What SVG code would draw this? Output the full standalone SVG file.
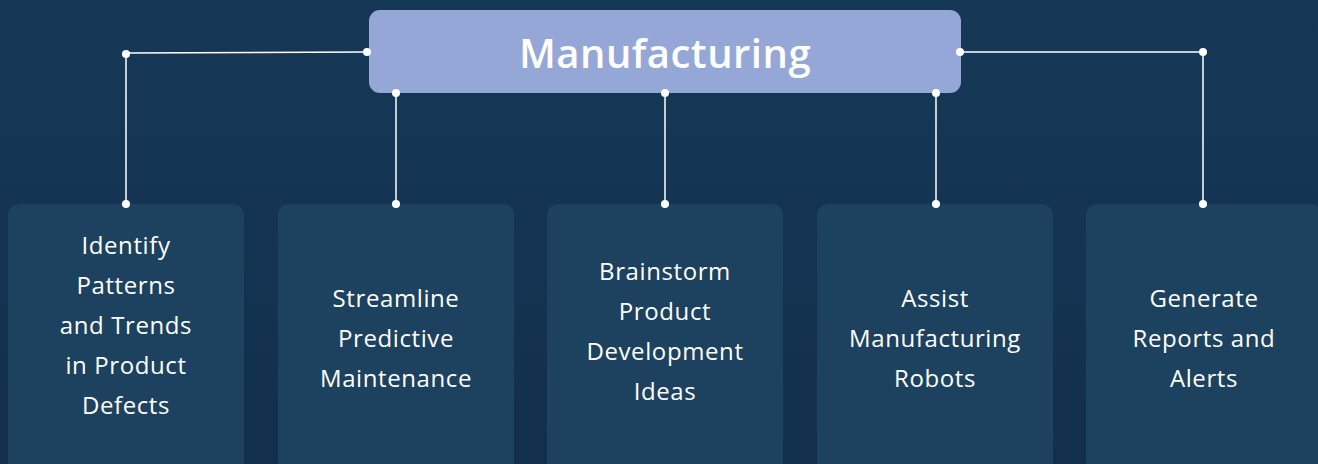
<svg xmlns="http://www.w3.org/2000/svg" width="1318" height="464" viewBox="0 0 1318 464">
<defs>
<linearGradient id="bg" x1="0" y1="0" x2="0" y2="1">
<stop offset="0" stop-color="#163857"/>
<stop offset="1" stop-color="#122f4d"/>
</linearGradient>
<style>
.box{fill:#1c4260}
.t{font-family:"Open Sans","Lato",sans-serif;font-size:24px;letter-spacing:0.6px;fill:#ffffff;text-anchor:middle}
.ln{stroke:#ffffff;stroke-width:1.5;fill:none}
.dot{fill:#ffffff}
</style>
</defs>
<rect width="1318" height="464" fill="url(#bg)"/>
<g id="manufacturing">
<rect x="369" y="10" width="592" height="83" rx="11" fill="#95a7d6"/>
<text x="665" y="68" style="font-family:'Open Sans','Lato',sans-serif;font-size:40px;letter-spacing:0.5px;font-weight:600;fill:#ffffff;text-anchor:middle">Manufacturing</text>
</g>
<g id="node1">
<rect class="box" x="8" y="204" width="236" height="280" rx="11"/>
<text class="t" x="126" y="254">Identify</text>
<text class="t" x="126" y="294">Patterns</text>
<text class="t" x="126" y="334">and Trends</text>
<text class="t" x="126" y="374">in Product</text>
<text class="t" x="126" y="414">Defects</text>
</g>
<g id="node2">
<rect class="box" x="278" y="204" width="236" height="280" rx="11"/>
<text class="t" x="396" y="307">Streamline</text>
<text class="t" x="396" y="347">Predictive</text>
<text class="t" x="396" y="387">Maintenance</text>
</g>
<g id="node3">
<rect class="box" x="547" y="204" width="236" height="280" rx="11"/>
<text class="t" x="665" y="280">Brainstorm</text>
<text class="t" x="665" y="320">Product</text>
<text class="t" x="665" y="360">Development</text>
<text class="t" x="665" y="400">Ideas</text>
</g>
<g id="node4">
<rect class="box" x="817" y="204" width="236" height="280" rx="11"/>
<text class="t" x="935" y="307">Assist</text>
<text class="t" x="935" y="347">Manufacturing</text>
<text class="t" x="935" y="387">Robots</text>
</g>
<g id="node5">
<rect class="box" x="1086" y="204" width="236" height="280" rx="11"/>
<text class="t" x="1204" y="307">Generate</text>
<text class="t" x="1204" y="347">Reports and</text>
<text class="t" x="1204" y="387">Alerts</text>
</g>
<g id="connectors">
<polyline class="ln" points="367,52 126,53 126,204"/>
<polyline class="ln" points="960,52 1203,52 1203,204"/>
<line class="ln" x1="396" y1="93" x2="396" y2="204"/>
<line class="ln" x1="665" y1="93" x2="665" y2="204"/>
<line class="ln" x1="936" y1="93" x2="936" y2="204"/>
<circle class="dot" cx="367" cy="52" r="4"/>
<circle class="dot" cx="126" cy="54" r="4"/>
<circle class="dot" cx="126" cy="204" r="4"/>
<circle class="dot" cx="960" cy="52" r="4"/>
<circle class="dot" cx="1203" cy="52" r="4"/>
<circle class="dot" cx="1203" cy="204" r="4"/>
<circle class="dot" cx="396" cy="93" r="4"/>
<circle class="dot" cx="396" cy="204" r="4"/>
<circle class="dot" cx="665" cy="93" r="4"/>
<circle class="dot" cx="665" cy="204" r="4"/>
<circle class="dot" cx="936" cy="93" r="4"/>
<circle class="dot" cx="936" cy="204" r="4"/>
</g>
</svg>
